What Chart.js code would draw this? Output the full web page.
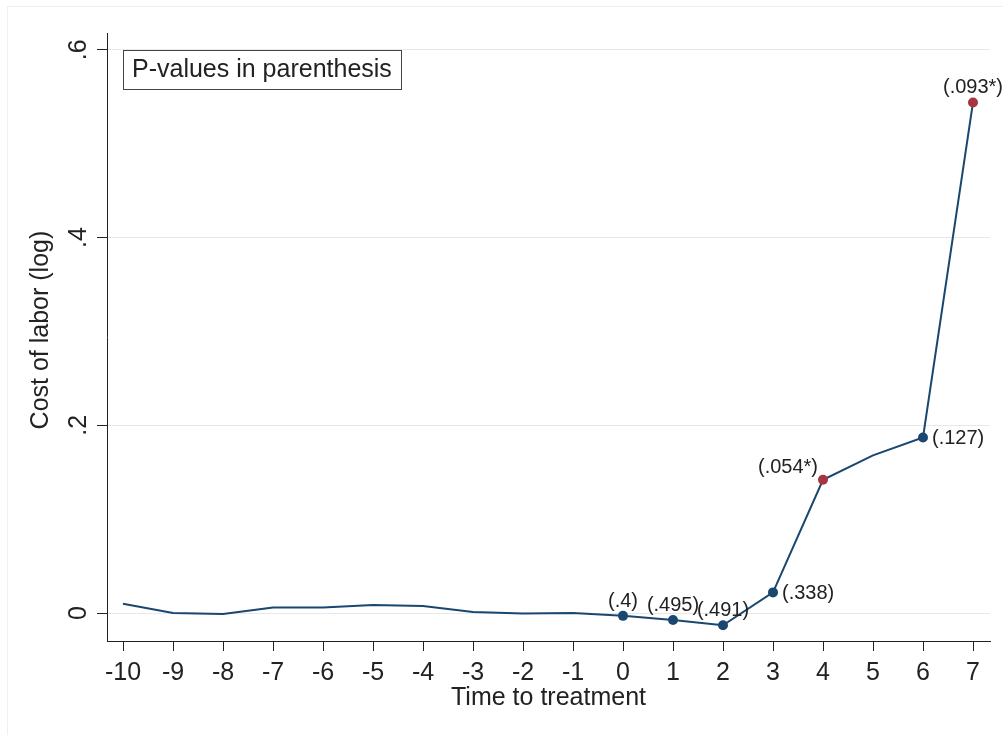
<!DOCTYPE html>
<html>
<head>
<meta charset="utf-8">
<script src="https://cdn.jsdelivr.net/npm/chart.js@4.4.1/dist/chart.umd.min.js"></script>
<style>
html,body{margin:0;padding:0;background:#fff;}
canvas{display:block;}
</style>
</head>
<body>
<canvas id="c" width="1003" height="735"></canvas>
<script>
// Event-study estimates by period relative to treatment
const periods = [-10, -9, -8, -7, -6, -5, -4, -3, -2, -1, 0, 1, 2, 3, 4, 5, 6, 7];
const estimates = [0.010, 0.000, -0.001, 0.006, 0.006, 0.0085, 0.0075, 0.001, -0.0005, 0.000,
                   -0.003, -0.0075, -0.013, 0.022, 0.142, 0.168, 0.187, 0.544];
const pValueLabels = [null, null, null, null, null, null, null, null, null, null,
                      "(.4)", "(.495)", "(.491)", "(.338)", "(.054*)", null, "(.127)", "(.093*)"];
const yTickValues = [0, 0.2, 0.4, 0.6];
const xTickValues = periods;

// where each p-value label sits around its marker
const labelPlacement = { 0: 'above', 1: 'above', 2: 'above', 3: 'right', 4: 'upleft', 6: 'right', 7: 'above' };

const FONT = '"Liberation Sans", Arial, Helvetica, sans-serif';
const INK = '#222222';
const NAVY = '#1a476f';
const MAROON = '#a8343f';

const isStarred = i => !!pValueLabels[i] && pValueLabels[i].includes('*');

const framePlugin = {
  id: 'frame',
  beforeDraw(chart) {
    const ctx = chart.ctx;
    ctx.save();
    ctx.fillStyle = '#ffffff';
    ctx.fillRect(0, 0, chart.width, chart.height);
    ctx.strokeStyle = '#efefef';
    ctx.lineWidth = 1;
    ctx.strokeRect(7.5, 6.5, chart.width + 10, chart.height + 10);
    ctx.restore();
  }
};

const pLabelPlugin = {
  id: 'pLabels',
  afterDatasetsDraw(chart) {
    const ctx = chart.ctx;
    const meta = chart.getDatasetMeta(0);
    ctx.save();
    ctx.font = '20px ' + FONT;
    ctx.fillStyle = INK;
    pValueLabels.forEach((txt, i) => {
      if (!txt) return;
      const el = meta.data[i];
      const where = labelPlacement[periods[i]] || 'right';
      if (where === 'above') {
        ctx.textAlign = 'center';
        ctx.textBaseline = 'alphabetic';
        ctx.fillText(txt, el.x, el.y - 9);
      } else if (where === 'right') {
        ctx.textAlign = 'left';
        ctx.textBaseline = 'middle';
        ctx.fillText(txt, el.x + 9, el.y + 1);
      } else if (where === 'upleft') {
        ctx.textAlign = 'right';
        ctx.textBaseline = 'alphabetic';
        ctx.fillText(txt, el.x - 5, el.y - 7);
      }
    });
    ctx.restore();
  }
};

const noteBoxPlugin = {
  id: 'noteBox',
  afterDatasetsDraw(chart) {
    const ctx = chart.ctx;
    const a = chart.chartArea;
    const text = 'P-values in parenthesis';
    ctx.save();
    ctx.font = '25px ' + FONT;
    const w = ctx.measureText(text).width + 18;
    const x = a.left + 16, y = a.top + 17, h = 39;
    ctx.fillStyle = '#ffffff';
    ctx.fillRect(x, y, w, h);
    ctx.strokeStyle = '#444444';
    ctx.lineWidth = 1;
    ctx.strokeRect(Math.round(x) + 0.5, Math.round(y) + 0.5, Math.round(w), h);
    ctx.fillStyle = INK;
    ctx.textAlign = 'left';
    ctx.textBaseline = 'middle';
    ctx.fillText(text, x + 9, y + h / 2 + 1);
    ctx.restore();
  }
};

new Chart(document.getElementById('c'), {
  type: 'line',
  data: {
    datasets: [{
      data: periods.map((p, i) => ({ x: p, y: estimates[i] })),
      borderColor: NAVY,
      borderWidth: 2,
      tension: 0,
      fill: false,
      pointRadius: ctx => pValueLabels[ctx.dataIndex] ? 5 : 0,
      pointHoverRadius: ctx => pValueLabels[ctx.dataIndex] ? 5 : 0,
      pointBorderWidth: 0,
      pointBackgroundColor: ctx => isStarred(ctx.dataIndex) ? MAROON : NAVY,
      pointBorderColor: ctx => isStarred(ctx.dataIndex) ? MAROON : NAVY
    }]
  },
  options: {
    responsive: false,
    animation: false,
    events: [],
    layout: { padding: { left: 0, right: 13, top: 33, bottom: 0 } },
    plugins: { legend: { display: false }, tooltip: { enabled: false } },
    scales: {
      x: {
        type: 'linear',
        min: -10.32,
        max: 7.34,
        afterBuildTicks: s => { s.ticks = xTickValues.map(v => ({ value: v })); },
        afterFit: s => { s.height = 94; },
        grid: { drawOnChartArea: false, drawTicks: true, tickLength: 10, tickColor: INK, tickWidth: 1 },
        border: { display: true, color: INK, width: 1 },
        ticks: {
          font: { family: FONT, size: 25 }, color: INK, padding: 7,
          maxRotation: 0, autoSkip: false,
          callback: v => String(v)
        },
        title: {
          display: true, text: 'Time to treatment',
          font: { family: FONT, size: 25 }, color: INK,
          padding: { top: 0, bottom: 22 }
        }
      },
      y: {
        type: 'linear',
        min: -0.0298,
        max: 0.618,
        afterBuildTicks: s => { s.ticks = yTickValues.map(v => ({ value: v })); },
        afterFit: s => { s.width = 107; },
        grid: { color: '#e8e8e8', lineWidth: 1, drawTicks: true, tickLength: 10, tickColor: INK, tickWidth: 1 },
        border: { display: true, color: INK, width: 1 },
        ticks: {
          font: { family: FONT, size: 25 }, color: INK, padding: 7,
          minRotation: 90, maxRotation: 90, crossAlign: 'center',
          callback: v => v === 0 ? '0' : String(v).replace(/^0/, '')
        },
        title: {
          display: true, text: '  Cost of labor (log)',
          font: { family: FONT, size: 25 }, color: INK,
          padding: { top: 26, bottom: 0 }
        }
      }
    }
  },
  plugins: [framePlugin, pLabelPlugin, noteBoxPlugin]
});
</script>
</body>
</html>
